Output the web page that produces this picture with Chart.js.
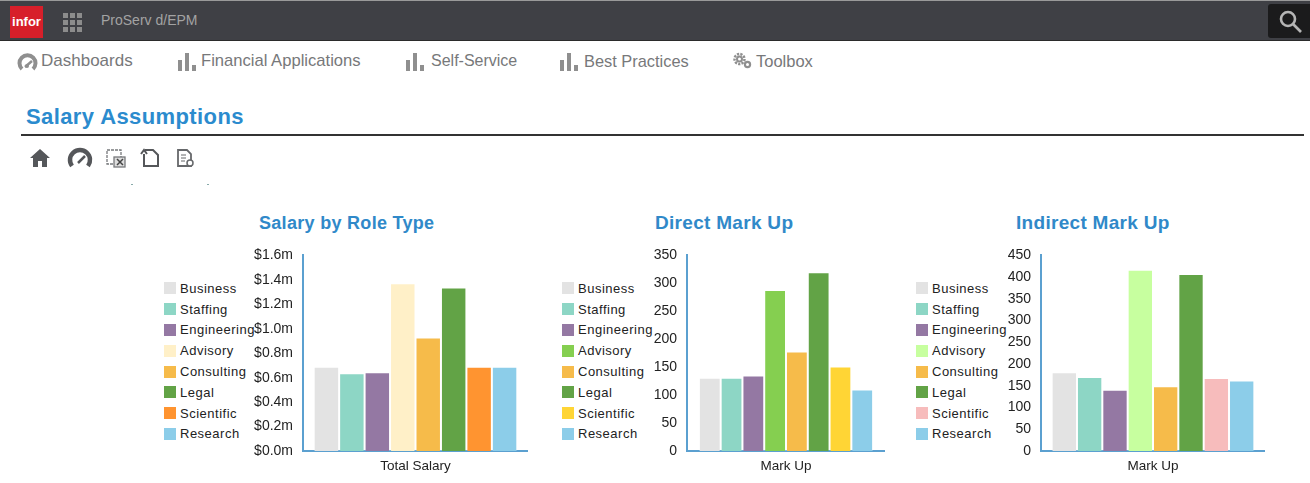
<!DOCTYPE html>
<html>
<head>
<meta charset="utf-8">
<title>Salary Assumptions</title>
<script src="https://cdn.jsdelivr.net/npm/chart.js@4/dist/chart.umd.min.js"></script>
<style>
html, body { margin: 0; padding: 0; background: #fff; overflow: hidden; }
body { width: 1310px; height: 483px; position: relative; font-family: "Liberation Sans", Arial, sans-serif; }
.abs { position: absolute; white-space: nowrap; }
#topbar { left: 0; top: 0; width: 1310px; height: 41px; background: #3f4045; border-top: 1px solid #9a9a9a; border-bottom: 1px solid #2b2b2b; box-sizing: border-box; }
#logo { left: 10px; top: 6px; width: 33px; height: 32px; background: #d71f2a; color: #fff; font-weight: bold; font-size: 13px; line-height: 32px; text-align: center; }
#app { left: 101px; top: 12px; color: #a3a3a3; font-size: 14px; }
#search { left: 1268px; top: 4px; width: 42px; height: 34px; background: #1b1b1c; border-radius: 3px 0 0 3px; }
.nav { top: 52px; color: #77787a; line-height: 18px; }
#heading { left: 26px; top: 104px; color: #2b8bce; font-weight: bold; font-size: 22px; line-height: 26px; letter-spacing: .4px; }
#rule { left: 21px; top: 134px; width: 1283px; height: 2px; background: #333; }
.ctitle { top: 212px; color: #3089c9; font-weight: bold; line-height: 22px; letter-spacing: .3px; }
.swatch { width: 12px; height: 12px; }
.ltext { color: #222; font-size: 13px; line-height: 16px; letter-spacing: .5px; }
.speck { width: 2px; height: 1px; background: #8aa; }
canvas { position: absolute; }
</style>
</head>
<body>
<div class="abs" id="topbar"></div>
<div class="abs" id="logo">infor</div>
<svg class="abs" style="left:62px;top:12px" width="21" height="20" fill="#8c8c8c">
  <rect x="1" y="1" width="5" height="5"/><rect x="8" y="1" width="5" height="5"/><rect x="15" y="1" width="5" height="5"/>
  <rect x="1" y="8" width="5" height="5"/><rect x="8" y="8" width="5" height="5"/><rect x="15" y="8" width="5" height="5"/>
  <rect x="1" y="15" width="5" height="5"/><rect x="8" y="15" width="5" height="5"/><rect x="15" y="15" width="5" height="5"/>
</svg>
<div class="abs" id="app">ProServ d/EPM</div>
<div class="abs" id="search"></div>
<svg class="abs" style="left:1276px;top:7px" width="28" height="28" fill="none" stroke="#b5b5b5" stroke-width="2.6">
  <circle cx="12" cy="12" r="7"/><line x1="17" y1="17" x2="25" y2="25"/>
</svg>

<svg class="abs" style="left:17px;top:52px" width="21" height="20" fill="none" stroke="#8f8f8f"><path d="M5 17 A8 8 0 1 1 16 17" stroke-width="4"/><path d="M8 15 L15 9" stroke-width="2.5"/><circle cx="10" cy="14" r="2" fill="#8f8f8f" stroke="none"/></svg>
<div class="abs nav" style="left:41px;font-size:17px">Dashboards</div>
<svg class="abs barsicon" style="left:177px;top:52px" width="19" height="19" fill="#8f8f8f"><rect x="1" y="8" width="4" height="11"/><rect x="8" y="1" width="4" height="18"/><rect x="15" y="13" width="4" height="6"/></svg>
<div class="abs nav" style="left:201px;font-size:16.6px">Financial Applications</div>
<svg class="abs barsicon" style="left:405px;top:52px" width="19" height="19" fill="#8f8f8f"><rect x="1" y="8" width="4" height="11"/><rect x="8" y="1" width="4" height="18"/><rect x="15" y="13" width="4" height="6"/></svg>
<div class="abs nav" style="left:431px;font-size:16px">Self-Service</div>
<svg class="abs barsicon" style="left:559px;top:52px" width="19" height="19" fill="#8f8f8f"><rect x="1" y="8" width="4" height="11"/><rect x="8" y="1" width="4" height="18"/><rect x="15" y="13" width="4" height="6"/></svg>
<div class="abs nav" style="left:584px;font-size:16.4px">Best Practices</div>
<svg class="abs" style="left:732px;top:51px" width="21" height="19" fill="none" stroke="#8f8f8f"><circle cx="7.5" cy="8" r="5" stroke-width="2.5" stroke-dasharray="2.2 1.2"/><circle cx="7.5" cy="8" r="2.5" stroke-width="2"/><circle cx="15.5" cy="13.5" r="2.6" stroke-width="2.2"/></svg>
<div class="abs nav" style="left:756px;font-size:16.5px">Toolbox</div>

<div class="abs" id="heading">Salary Assumptions</div>
<div class="abs" id="rule"></div>

<svg class="abs" style="left:28px;top:147px" width="170" height="22">
  <path d="M2 11 L12 2 L22 11 L19 11 L19 20 L14 20 L14 14 L10 14 L10 20 L5 20 L5 11 Z" fill="#55575a"/>
  <path d="M44 19 A10 10 0 1 1 60 19" fill="none" stroke="#55575a" stroke-width="4.5"/>
  <path d="M50 16 L57 9" stroke="#55575a" stroke-width="2.5"/>
  <g fill="none" stroke="#77797c" stroke-width="1.3">
    <rect x="79" y="3" width="14" height="14" stroke-dasharray="3 1"/>
    <rect x="86" y="10" width="11" height="10" fill="#ddd"/>
    <path d="M89 12 L95 18 M95 12 L89 18" stroke="#444" stroke-width="1.5"/>
  </g>
  <path d="M116 7 L116 19 L130 19 L130 8 L125 3 L117 3 M113 7 L116 3 L119 7" fill="none" stroke="#55575a" stroke-width="2"/>
  <path d="M150 3 L159 3 L163 7 L163 19 L150 19 Z" fill="none" stroke="#66686b" stroke-width="1.8"/>
  <path d="M153 8 H158 M153 11 H158 M153 14 H157" stroke="#66686b"/>
  <circle cx="162" cy="16" r="3" fill="#fff" stroke="#66686b" stroke-width="1.5"/>
</svg>
<div class="abs speck" style="left:131px;top:184px"></div>
<div class="abs speck" style="left:207px;top:184px"></div>

<script>
// legend names are the same on all three panels
const roles = ['Business', 'Staffing', 'Engineering', 'Advisory', 'Consulting', 'Legal', 'Scientific', 'Research'];

const salaryValues = [690000, 635000, 645000, 1372000, 928000, 1338000, 690000, 690000];
const directValues = [131, 131, 135, 288, 178, 320, 151, 110];
const indirectValues = [181, 170, 141, 417, 149, 407, 168, 162];

const salaryColors = ['#e3e3e3', '#8dd6c5', '#9478a3', '#fff0c8', '#f6bb4a', '#62a346', '#ff9430', '#8ccde9'];
const directColors = ['#e3e3e3', '#8dd6c5', '#9478a3', '#85cf50', '#f6bb4a', '#62a346', '#ffd535', '#8ccde9'];
const indirectColors = ['#e3e3e3', '#8dd6c5', '#9478a3', '#c7ff9f', '#f6bb4a', '#62a346', '#f7bcbc', '#8ccde9'];

function addText(cls, text, left, top) {
    const el = document.createElement('div');
    el.className = 'abs ' + cls;
    el.textContent = text;
    el.style.left = left + 'px';
    if (top !== null) el.style.top = top + 'px';
    document.body.appendChild(el);
    return el;
}

function addLegend(colors, swatchX, textX) {
    roles.forEach((role, i) => {
        const y = 288.3 + i * 20.8;
        const sw = document.createElement('div');
        sw.className = 'abs swatch';
        sw.style.left = swatchX + 'px';
        sw.style.top = (y - 6) + 'px';
        sw.style.background = colors[i];
        document.body.appendChild(sw);
        addText('ltext', role, textX, y - 7.5);
    });
}

function addChart(cfg) {
    addText('ctitle', cfg.title, cfg.titleX, null).style.fontSize = cfg.titleSize + 'px';
    addLegend(cfg.colors, cfg.swatchX, cfg.textX);

    // y axis keeps 18.4px above the plot for its top label and tick padding
    const canvas = document.createElement('canvas');
    canvas.style.left = (cfg.axisX - 60) + 'px';
    canvas.style.top = '237px';
    canvas.style.width = (cfg.axisEnd - cfg.axisX + 60) + 'px';
    canvas.style.height = '243px';
    document.body.appendChild(canvas);

    new Chart(canvas.getContext('2d'), {
        type: 'bar',
        data: {
            labels: [cfg.label],
            datasets: roles.map((role, i) => ({
                label: role,
                data: [cfg.values[i]],
                backgroundColor: cfg.colors[i],
                borderColor: 'rgba(255,255,255,0.25)',
                borderWidth: 1
            }))
        },
        options: {
            responsive: false,
            animation: false,
            devicePixelRatio: 1,
            layout: { padding: 0 },
            plugins: { legend: { display: false }, title: { display: false }, tooltip: { enabled: false } },
            datasets: { bar: { barPercentage: 1, categoryPercentage: cfg.catPct } },
            scales: {
                x: {
                    grid: { display: false, drawTicks: false },
                    border: { display: true, color: '#5ba0d0', width: 2 },
                    ticks: { color: '#222', font: { family: 'Liberation Sans', size: 13.5 }, padding: 7 },
                    afterFit: scale => { scale.height = 29; }
                },
                y: {
                    min: 0,
                    max: cfg.max,
                    grid: { display: false, drawTicks: false },
                    border: { display: true, color: '#5ba0d0', width: 2 },
                    ticks: {
                        stepSize: cfg.step,
                        color: '#222',
                        padding: 10,
                        font: { family: 'Liberation Sans', size: 14 },
                        callback: cfg.format
                    },
                    afterFit: scale => { scale.width = 60; }
                }
            }
        }
    });
}

addChart({
    title: 'Salary by Role Type', titleX: 259, titleSize: 18, label: 'Total Salary',
    values: salaryValues, colors: salaryColors,
    swatchX: 164, textX: 180, axisX: 303, axisEnd: 528, catPct: 0.905,
    max: 1600000, step: 200000,
    format: v => '$' + (v / 1000000).toFixed(1) + 'm'
});
addChart({
    title: 'Direct Mark Up', titleX: 655, titleSize: 19, label: 'Mark Up',
    values: directValues, colors: directColors,
    swatchX: 562, textX: 578, axisX: 687, axisEnd: 885, catPct: 0.88,
    max: 350, step: 50,
    format: v => v
});
addChart({
    title: 'Indirect Mark Up', titleX: 1016, titleSize: 19, label: 'Mark Up',
    values: indirectValues, colors: indirectColors,
    swatchX: 916, textX: 932, axisX: 1041, axisEnd: 1265, catPct: 0.905,
    max: 450, step: 50,
    format: v => v
});
</script>
</body>
</html>
